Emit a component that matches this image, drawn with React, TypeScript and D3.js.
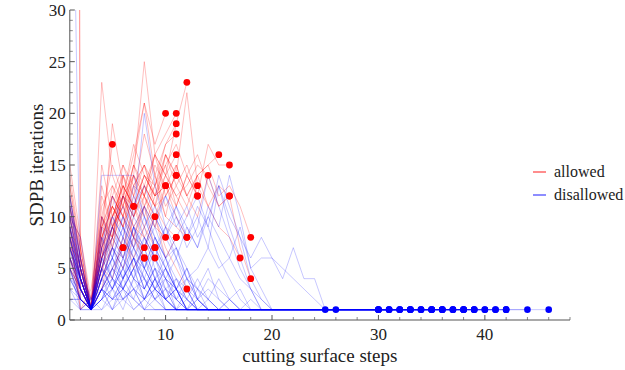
import React from "react";
import * as d3 from "d3";

// ---------- data ----------
// Red ("allowed") runs: SDPB iterations at cutting surface steps 1..n; last value is the red dot.
const redRuns: number[][] = [
  [10, 5, 1, 9, 17],
  [7, 4, 1, 5, 9, 7],
  [300, 2, 1, 6, 8, 13, 11],
  [6, 3, 1, 8, 11, 9, 5, 7],
  [8, 5, 2, 6, 12, 10, 8, 6],
  [11, 7, 1, 23, 14, 11, 15, 12, 10],
  [5, 3, 1, 7, 10, 13, 8, 11, 7],
  [9, 4, 1, 5, 7, 12, 9, 8, 6],
  [13, 6, 1, 10, 15, 12, 16, 21, 17, 20],
  [8, 2, 1, 7, 19, 13, 11, 14, 12, 13],
  [6, 4, 1, 9, 8, 14, 10, 12, 9, 8],
  [15, 8, 2, 11, 13, 10, 14, 25, 16, 18, 20],
  [10, 5, 1, 6, 12, 15, 13, 12, 16, 14, 19],
  [450, 3, 1, 8, 10, 12, 17, 14, 13, 17, 18],
  [12, 6, 1, 9, 11, 9, 13, 15, 12, 14, 16],
  [9, 4, 1, 13, 9, 11, 8, 12, 16, 12, 14],
  [6, 3, 1, 5, 8, 12, 10, 13, 11, 9, 8],
  [11, 5, 1, 7, 13, 11, 15, 21, 14, 17, 19, 23],
  [8, 4, 1, 10, 8, 14, 11, 9, 12, 13, 10, 8],
  [5, 3, 1, 6, 9, 7, 11, 8, 10, 7, 5, 3],
  [10, 5, 1, 8, 11, 9, 12, 15, 13, 16, 14, 22, 13],
  [7, 6, 1, 6, 10, 13, 11, 14, 12, 15, 17, 14, 12],
  [13, 7, 1, 9, 12, 10, 15, 13, 16, 14, 12, 13, 15, 14],
  [9, 5, 1, 7, 9, 12, 10, 13, 11, 16, 14, 12, 14, 15, 16],
  [6, 3, 1, 8, 11, 14, 12, 10, 13, 15, 11, 14, 12, 17, 15, 15],
  [11, 6, 1, 10, 8, 12, 14, 11, 13, 10, 15, 12, 14, 11, 13, 12],
  [8, 4, 1, 9, 12, 10, 13, 15, 11, 14, 12, 10, 13, 11, 9, 8, 6],
  [10, 8, 1, 7, 10, 13, 11, 14, 12, 16, 13, 11, 14, 15, 12, 13, 11, 8],
  [7, 4, 1, 6, 9, 11, 14, 12, 10, 13, 15, 12, 10, 14, 11, 12, 7, 4],
  [9, 4, 1, 4, 11, 9, 14, 12, 15, 13],
  [5, 2, 1, 3, 8, 6, 10, 13, 11, 12, 14],
  [12, 6, 1, 5, 4, 8, 6, 9, 7],
  [8, 1, 3, 10, 7, 12, 9, 11, 14, 10, 9, 8],
  [6, 2, 1, 4, 7, 5, 8, 6],
  [10, 4, 1, 12, 9, 15, 12, 18, 14, 11, 13, 15, 12],
  [7, 3, 1, 5, 9, 11, 8, 7, 10, 6, 8],
  [14, 7, 1, 15, 10, 12, 11],
  [9, 1, 2, 6, 8, 10, 7, 11, 9, 13, 11, 14, 16, 13, 11, 12],
  [11, 5, 1, 3, 5, 7],
];

// Blue ("disallowed") runs: values at steps 1..n, then the run stays at 1 until its final step (blue dot).
const blueRuns: number[][] = [
  [66, 1, 1, 3, 5, 3, 2, 1],
  [12, 6, 1, 14, 14, 14, 14, 10, 7, 5, 3, 1],
  [8, 4, 1, 6, 9, 12, 10, 20, 13, 9, 6, 4, 2, 1],
  [10, 8, 1, 4, 7, 5, 9, 11, 8, 6, 3, 5, 2, 1],
  [6, 3, 1, 3, 5, 8, 6, 4, 7, 5, 3, 1],
  [9, 4, 1, 7, 10, 8, 12, 9, 11, 8, 10, 7, 9, 14, 11, 8, 5, 3, 1],
  [5, 2, 1, 4, 6, 9, 7, 5, 3, 2, 1],
  [11, 6, 1, 8, 6, 10, 8, 7, 9, 6, 8, 10, 12, 9, 14, 11, 8, 6, 8, 6, 4, 7, 4, 4, 1],
  [7, 4, 1, 5, 8, 6, 9, 7, 10, 8, 6, 9, 7, 11, 9, 14, 10, 5, 6, 6, 5, 4, 3, 2, 1],
  [4, 2, 1, 3, 2, 4, 6, 3, 5, 2, 1],
  [8, 3, 1, 6, 4, 7, 10, 8, 6, 9, 7, 5, 3, 1],
  [2, 2, 1, 2, 3, 5, 3, 2, 4, 2, 1],
  [10, 4, 1, 5, 9, 7, 11, 13, 10, 8, 11, 9, 7, 10, 8, 6, 9, 5, 3, 1],
  [7, 3, 1, 9, 6, 4, 8, 5, 7, 4, 3, 1],
  [6, 4, 1, 4, 7, 10, 7, 9, 6, 4, 6, 3, 2, 1],
  [11, 5, 1, 7, 12, 9, 6, 8, 5, 3, 4, 2, 1],
  [3, 2, 1, 2, 4, 3, 5, 4, 2, 3, 1],
  [9, 5, 1, 6, 8, 11, 9, 7, 10, 12, 9, 11, 8, 10, 13, 9, 6, 3, 1],
  [5, 3, 1, 8, 5, 7, 4, 6, 3, 5, 2, 1],
  [12, 6, 1, 5, 10, 8, 13, 10, 7, 9, 11, 8, 10, 7, 13, 10, 8, 4, 2, 1],
  [7, 4, 1, 3, 6, 4, 7, 5, 8, 6, 4, 2, 1],
  [4, 3, 1, 5, 3, 6, 4, 8, 6, 3, 2, 1],
  [9, 5, 1, 4, 6, 9, 7, 10, 8, 5, 7, 4, 3, 5, 2, 1],
  [6, 3, 1, 7, 4, 3, 5, 2, 3, 1],
  [10, 5, 1, 6, 9, 6, 8, 11, 9, 12, 10, 8, 11, 9, 6, 4, 2, 1],
  [8, 4, 1, 5, 3, 5, 7, 4, 2, 4, 1],
  [2, 2, 1, 3, 4, 2, 3, 1],
  [7, 4, 1, 10, 7, 5, 9, 6, 4, 2, 3, 1],
  [5, 1, 2, 1, 3, 2, 1, 2, 4, 2, 1, 3, 1],
  [3, 1, 1, 2, 1, 3, 1, 2, 1],
  [8, 3, 1, 2, 4, 2, 3, 1, 2, 1],
  [6, 2, 1, 3, 1, 4, 2, 5, 3, 2, 1, 2, 1],
  [10, 4, 2, 5, 3, 6, 4, 3, 5, 2, 3, 1, 2, 1],
  [4, 2, 1, 1, 2, 3, 2, 1, 3, 2, 4, 3, 1, 2, 1],
  [7, 3, 1, 2, 5, 3, 6, 4, 2, 3, 1],
  [9, 4, 1, 3, 2, 4, 6, 5, 3, 4, 2, 1, 3, 2, 1],
  [2, 1, 2, 3, 1, 2, 4, 3, 2, 1],
  [11, 5, 2, 4, 6, 3, 5, 7, 4, 6, 3, 2, 4, 2, 1, 2, 1],
  [6, 3, 1, 4, 3, 5, 3, 2, 4, 1],
  [5, 2, 1, 2, 3, 1, 4, 2, 3, 5, 3, 2, 1],
  [8, 4, 1, 6, 4, 8, 5, 7, 4, 5, 3, 4, 2, 3, 2, 1],
  [12, 5, 1, 4, 7, 6, 9, 5, 8, 6, 7, 4, 5, 7, 5, 6, 4, 3, 2, 1],
  [4, 2, 1, 3, 2, 2, 3, 4, 3, 2, 3, 1, 2, 1, 1, 2, 1],
  [9, 3, 1, 5, 7, 4, 6, 3, 6, 4, 2, 3, 1],
  [7, 3, 1, 3, 5, 4, 6, 3, 5, 4, 3, 5, 2, 4, 3, 2, 3, 1],
  [5, 2, 1, 4, 2, 3, 5, 2, 4, 3, 2, 4, 3, 2, 4, 2, 1, 2, 1],
];
// final step of each blue run (where the blue dot sits, at 1 iteration)
const blueEndSteps: number[] = [
  46, 44, 42, 30, 31, 40, 32, 25, 26, 33, 34, 35, 36, 37, 38, 39, 41, 42, 30, 31, 32, 33, 34, 35, 36, 37, 38, 39,
  40, 30, 33, 35, 31, 36, 38, 32, 34, 41, 30, 37, 39, 42, 35, 33, 36, 38,
];
const blueEndValue = 1;

const yTicks = [0, 5, 10, 15, 20, 25, 30];
const xTicks = [10, 20, 30, 40];
const legendLabels = ["allowed", "disallowed"];
const xLabel = "cutting surface steps";
const yLabel = "SDPB iterations";

// ---------- layout ----------
const W = 625;
const H = 370;
const left = 69.8;
const right = 570;
const top = 10;
const bottom = 320;

const RED = "rgb(255,0,0)";
const BLUE = "rgb(0,0,255)";
const AXIS = "#555";
const FONT = "Liberation Serif, Tinos, Times New Roman, DejaVu Serif, serif";

export default function App() {
  const x = d3.scaleLinear().domain([1, 48]).range([left, right]);
  const y = d3.scaleLinear().domain([0, 30]).range([bottom, top]);

  const line = d3
    .line<[number, number]>()
    .x((d) => x(d[0]))
    .y((d) => y(d[1]));

  const redPaths = redRuns.map((run) => line(run.map((v, i) => [i + 1, v] as [number, number])) || "");
  const bluePaths = blueRuns.map((run, k) => {
    const pts = run.map((v, i) => [i + 1, v] as [number, number]);
    pts.push([blueEndSteps[k], blueEndValue]);
    return line(pts) || "";
  });

  const yMinor = d3.range(0, 31).filter((v) => v % 5 !== 0);
  const xMinor = d3.range(2, 49, 2).filter((v) => v % 10 !== 0);

  return (
    <svg
      width={W}
      height={H}
      style={{ position: "absolute", left: 0, top: 0, background: "#fff" }}
      fontFamily={FONT}
    >
      <defs>
        <clipPath id="plotClip">
          <rect x={left} y={top} width={right - left} height={bottom - top} />
        </clipPath>
      </defs>
      <g clipPath="url(#plotClip)" fill="none" strokeWidth={1}>
        {redPaths.map((d, i) => (
          <path key={"r" + i} d={d} stroke={RED} strokeOpacity={0.25} />
        ))}
        {bluePaths.map((d, i) => (
          <path key={"b" + i} d={d} stroke={BLUE} strokeOpacity={0.22} />
        ))}
      </g>
      {/* points */}
      {redRuns.map((run, i) => (
        <circle key={"rp" + i} cx={x(run.length)} cy={y(run[run.length - 1])} r={3.4} fill={RED} />
      ))}
      {blueEndSteps.map((s, i) => (
        <circle key={"bp" + i} cx={x(s)} cy={y(blueEndValue)} r={3.3} fill={BLUE} />
      ))}

      {/* axes */}
      <line x1={left} x2={left} y1={top} y2={bottom} stroke={AXIS} strokeWidth={1} />
      <line x1={left} x2={right} y1={bottom} y2={bottom} stroke={AXIS} strokeWidth={1} />
      {yTicks.map((t) => (
        <g key={"yt" + t}>
          <line x1={left} x2={left + 5} y1={y(t)} y2={y(t)} stroke={AXIS} />
          <text x={left - 4} y={y(t)} dy="0.35em" textAnchor="end" fontSize={17} fill="#222" fontFamily={FONT}>
            {t}
          </text>
        </g>
      ))}
      {yMinor.map((t) => (
        <line key={"ym" + t} x1={left} x2={left + 3} y1={y(t)} y2={y(t)} stroke={AXIS} strokeWidth={0.7} />
      ))}
      {xTicks.map((t) => (
        <g key={"xt" + t}>
          <line x1={x(t)} x2={x(t)} y1={bottom} y2={bottom - 5} stroke={AXIS} />
          <text x={x(t)} y={339.5} textAnchor="middle" fontSize={17} fill="#222" fontFamily={FONT}>
            {t}
          </text>
        </g>
      ))}
      {xMinor.map((t) => (
        <line key={"xm" + t} x1={x(t)} x2={x(t)} y1={bottom} y2={bottom - 3} stroke={AXIS} strokeWidth={0.7} />
      ))}

      {/* axis titles */}
      <text x={(left + right) / 2} y={362} textAnchor="middle" fontSize={19} fill="#222" fontFamily={FONT}>
        {xLabel}
      </text>
      <text
        transform={`translate(43,165) rotate(-90)`}
        textAnchor="middle"
        fontSize={19}
        fill="#222"
        fontFamily={FONT}
      >
        {yLabel}
      </text>

      {/* legend */}
      {legendLabels.map((lab, i) => (
        <g key={lab} transform={`translate(0,${172 + i * 23})`}>
          <line x1={533} x2={546} y1={0} y2={0} stroke={i === 0 ? RED : BLUE} strokeOpacity={0.75} strokeWidth={1.2} />
          <text x={554} y={0} dy="0.32em" fontSize={16} fill="#222" fontFamily={FONT}>
            {lab}
          </text>
        </g>
      ))}
    </svg>
  );
}
